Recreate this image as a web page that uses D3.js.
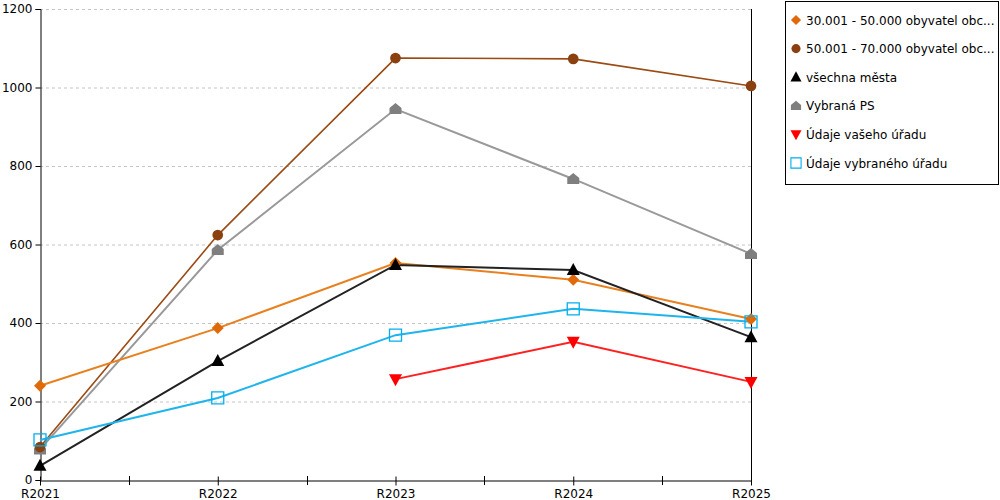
<!DOCTYPE html>
<html><head><meta charset="utf-8">
<script src="https://cdn.jsdelivr.net/npm/d3@7"></script>
<style>
body{margin:0;background:#fff;}
text{font-family:"DejaVu Sans",Verdana,sans-serif;}
</style></head>
<body><svg id="c" width="1000" height="500"></svg>
<script>
const categories = ["R2021","R2022","R2023","R2024","R2025"];
const yTicks = [0,200,400,600,800,1000,1200];
const seriesNames = ["30.001 - 50.000 obyvatel obc...","50.001 - 70.000 obyvatel obc...","všechna města","Vybraná PS","Údaje vašeho úřadu","Údaje vybraného úřadu"];
const s30_50 = [240, 387, 553, 510, 410];
const s50_70 = [84, 624, 1075, 1073, 1004];
const vsechnaMesta = [36, 303, 548, 535, 364];
const vybranaPS = [78, 586, 945, 767, 576];
const vasUrad = [null, null, 257, 352, 250];
const vybranyUrad = [102, 209, 369, 436, 403];

const series = [
  {name:seriesNames[0], values:s30_50, line:"#E8801F", fill:"#E06A0A", shape:"diamond", w:2},
  {name:seriesNames[1], values:s50_70, line:"#9A4A12", fill:"#8B4010", shape:"circle", w:1.6},
  {name:seriesNames[2], values:vsechnaMesta, line:"#222", fill:"#000", shape:"triangle", w:2},
  {name:seriesNames[3], values:vybranaPS, line:"#999", fill:"#7f7f7f", shape:"house", w:2},
  {name:seriesNames[4], values:vasUrad, line:"#FF2020", fill:"#FF0000", shape:"down", w:2},
  {name:seriesNames[5], values:vybranyUrad, line:"#1EB4EC", fill:"none", stroke:"#00AEEF", shape:"square", w:2}
];
const drawOrder = [3,1,0,2,4,5];

const svg = d3.select("#c");
const x = d3.scalePoint().domain(categories).range([40,751]);
const y = d3.scaleLinear().domain([0,1200]).range([480,9]);

// grid
svg.append("g").selectAll("line").data(yTicks.filter(d=>d>0)).join("line")
  .attr("x1",40).attr("x2",751).attr("y1",d=>y(d)+0.5).attr("y2",d=>y(d)+0.5)
  .attr("stroke","#c4c4c4").attr("stroke-dasharray","3,3").attr("stroke-width",1);

// axes
const yAxis = svg.append("g").attr("transform","translate(40.5,0)")
  .call(d3.axisLeft(y).tickValues(yTicks).tickFormat(d3.format("d")).tickSize(5).tickPadding(3));
yAxis.select(".domain").attr("stroke","#000");
yAxis.selectAll("text").attr("font-size","12px").attr("fill","#000");

const xAxis = svg.append("g").attr("transform","translate(0,480.5)")
  .call(d3.axisBottom(x).tickSize(5).tickSizeOuter(0).tickPadding(4));
xAxis.select(".domain").attr("stroke","#000");
xAxis.selectAll(".tick line").attr("y1",-4).attr("y2",5);
xAxis.selectAll("text").attr("font-size","12px").attr("fill","#000");
// minor ticks between categories
const mids = categories.slice(0,-1).map((c,i)=>(x(c)+x(categories[i+1]))/2);
svg.append("g").selectAll("line").data(mids).join("line")
  .attr("x1",d=>Math.round(d)+0.5).attr("x2",d=>Math.round(d)+0.5)
  .attr("y1",476).attr("y2",485).attr("stroke","#000");
// right axis line
svg.append("line").attr("x1",751.5).attr("x2",751.5).attr("y1",9).attr("y2",480).attr("stroke","#000");

function markerPath(shape){
  switch(shape){
    case "diamond": return "M0,-6L6,0L0,6L-6,0Z";
    case "circle": return d3.symbol(d3.symbolCircle, 90)();
    case "triangle": return "M0,-7L6.5,5L-6.5,5Z";
    case "house": return "M0,-6L6,-1L6,5L-6,5L-6,-1Z";
    case "down": return "M-6.5,-5L6.5,-5L0,7Z";
    case "square": return "M-6,-6H6V6H-6Z";
  }
}

const line = d3.line().defined(d=>d.v!=null).x(d=>x(d.c)).y(d=>y(d.v));
drawOrder.forEach(i=>{
  const s = series[i];
  const pts = categories.map((c,j)=>({c, v:s.values[j]}));
  svg.append("path").datum(pts).attr("d",line).attr("fill","none")
    .attr("stroke",s.line).attr("stroke-width",s.w);
});
drawOrder.forEach(i=>{
  const s = series[i];
  const pts = categories.map((c,j)=>({c, v:s.values[j]})).filter(d=>d.v!=null);
  svg.append("g").selectAll("path").data(pts).join("path")
    .attr("d",markerPath(s.shape))
    .attr("transform",d=>`translate(${x(d.c)},${y(d.v)})`)
    .attr("fill",s.fill).attr("stroke",s.stroke||"none").attr("stroke-width",1.3);
});

// legend
const lg = svg.append("g");
lg.append("rect").attr("x",785.5).attr("y",1.5).attr("width",213).attr("height",183)
  .attr("fill","#fff").attr("stroke","#000");
series.forEach((s,i)=>{
  const yy = 20 + i*28.6;
  lg.append("path").attr("d",markerPath(s.shape))
    .attr("transform",`translate(796,${yy}) scale(0.85)`)
    .attr("fill",s.fill).attr("stroke",s.stroke||"none").attr("stroke-width",1.3);
  lg.append("text").attr("x",806).attr("y",yy+4.5).attr("font-size","12px").attr("fill","#000").text(s.name);
});
</script></body></html>
